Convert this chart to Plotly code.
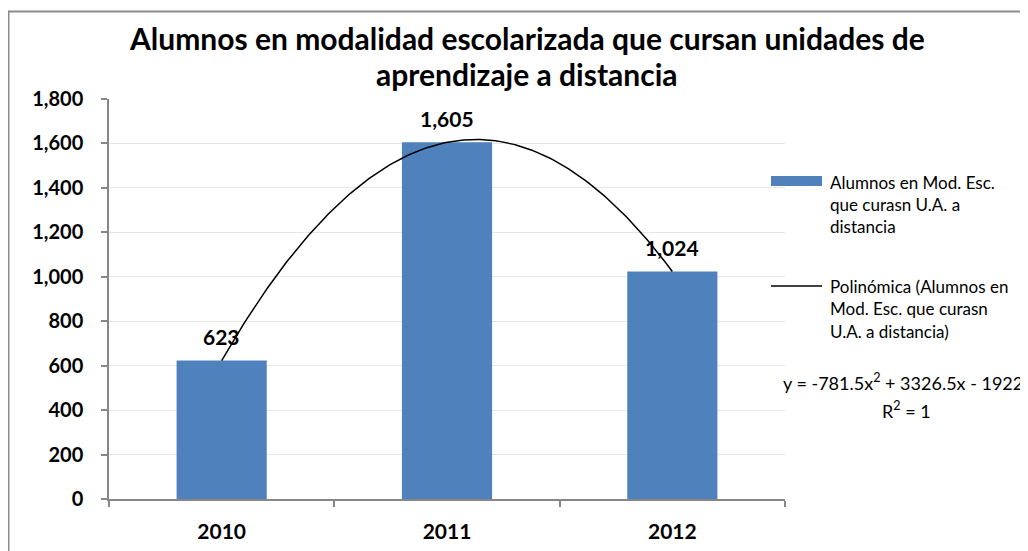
import numpy as np
import plotly.graph_objects as go

# ---- data ----
years = ["2010", "2011", "2012"]
alumnos = [623, 1605, 1024]
y_ticks = [0, 200, 400, 600, 800, 1000, 1200, 1400, 1600, 1800]
title_lines = ["Alumnos en modalidad escolarizada que cursan unidades de",
               "aprendizaje a distancia"]
legend_bar = ["Alumnos en Mod. Esc.", "que curasn U.A. a", "distancia"]
legend_line = ["Polinómica (Alumnos en", "Mod. Esc. que curasn", "U.A. a distancia)"]

# page is offset by the default 8px body margin
OFF = 8
PAGE_W, PAGE_H = 1028, 551
W, H = PAGE_W - OFF, PAGE_H - OFF
AX_L, AX_R, AX_T, AX_B = 109, 785, 99, 499  # page pixel coords of plot area
L, R, T, B = AX_L - OFF, PAGE_W - AX_R, AX_T - OFF, PAGE_H - AX_B
PW, PH = AX_R - AX_L, AX_B - AX_T


def px(x):
    return (x - AX_L) / PW


def py(y):
    return (AX_B - y) / PH


FONT = "Lato"
BLUE = "#4F81BD"
AX = "#878787"

idx = list(range(len(years)))

# Excel-style polynomial (order 2) trendline, x = 1..n
xe = np.arange(1, len(alumnos) + 1)
coef = np.polyfit(xe, alumnos, 2)
xs = np.linspace(1, len(alumnos), 200)
ys = np.polyval(coef, xs)
pred = np.polyval(coef, xe)
r2 = 1 - np.sum((np.array(alumnos) - pred) ** 2) / np.sum((np.array(alumnos) - np.mean(alumnos)) ** 2)

fig = go.Figure()
fig.add_trace(go.Bar(x=idx, y=alumnos, width=0.4, marker=dict(color=BLUE, line=dict(width=0)),
                     showlegend=False, hoverinfo="skip"))
fig.add_trace(go.Scatter(x=xs - 1, y=ys, mode="lines", line=dict(color="black", width=1.5),
                         showlegend=False, hoverinfo="skip"))

ann = []
for i, v in zip(idx, alumnos):
    ann.append(dict(x=i, y=v, xref="x", yref="y", text=f"<b>{v:,}</b>", showarrow=False,
                    yanchor="middle", yshift=24, font=dict(family=FONT, size=21, color="black")))

# title
for j, line in enumerate(title_lines):
    ann.append(dict(x=px(527), y=py(38 + 36 * j), xref="paper", yref="paper", text=f"<b>{line}</b>",
                    showarrow=False, xanchor="center", yanchor="middle",
                    font=dict(family=FONT, size=30, color="black")))

# custom legend
LEGX = 828
shapes = [
    dict(type="rect", xref="paper", yref="paper", x0=px(771), x1=px(822), y0=py(186), y1=py(176),
         fillcolor=BLUE, line=dict(width=0)),
    dict(type="line", xref="paper", yref="paper", x0=px(771), x1=px(822), y0=py(286), y1=py(286),
         line=dict(color="black", width=1.5)),
    # chart border (top and left)
    dict(type="line", xref="paper", yref="paper", x0=px(8), x1=px(1040), y0=py(11.5), y1=py(11.5),
         line=dict(color="#8C8C8C", width=2)),
    dict(type="line", xref="paper", yref="paper", x0=px(8.5), x1=px(8.5), y0=py(11), y1=py(570),
         line=dict(color="#8C8C8C", width=2)),
]
for k, t in enumerate(legend_bar):
    ann.append(dict(x=px(LEGX), y=py(182 + 22.3 * k), xref="paper", yref="paper", text=t, showarrow=False,
                    xanchor="left", yanchor="middle", font=dict(family=FONT, size=17, color="black")))
for k, t in enumerate(legend_line):
    ann.append(dict(x=px(LEGX), y=py(286 + 22.5 * k), xref="paper", yref="paper", text=t, showarrow=False,
                    xanchor="left", yanchor="middle", font=dict(family=FONT, size=17, color="black")))


def fmt(v):
    return f"{v:g}"


a, b, c = coef
eq = f"y = {fmt(round(a, 1))}x<sup>2</sup> {'+' if b >= 0 else '-'} {fmt(abs(round(b, 1)))}x {'+' if c >= 0 else '-'} {fmt(abs(round(c)))}"
ann.append(dict(x=px(781), y=py(382), xref="paper", yref="paper", text=eq, showarrow=False,
                xanchor="left", yanchor="middle", font=dict(family=FONT, size=18, color="black")))
ann.append(dict(x=px(906), y=py(410), xref="paper", yref="paper", text=f"R<sup>2</sup> = {round(r2):g}",
                showarrow=False, xanchor="center", yanchor="middle",
                font=dict(family=FONT, size=18, color="black")))

fig.update_layout(
    width=W, height=H, margin=dict(l=L, r=R, t=T, b=B, autoexpand=False),
    paper_bgcolor="white", plot_bgcolor="white",
    annotations=ann, shapes=shapes, showlegend=False,
    xaxis=dict(range=[-0.5, len(years) - 0.5], tickvals=idx, ticktext=[f"<b>{y}</b>" for y in years],
               ticks="", showgrid=False, zeroline=False, showline=True, linecolor=AX, linewidth=1.5,
               automargin=False,
               tickfont=dict(family=FONT, size=21, color="black"), ticklabelstandoff=13,
               minor=dict(ticks="outside", tick0=-0.5, dtick=1, ticklen=6, tickcolor=AX, tickwidth=1.5,
                          showgrid=False)),
    yaxis=dict(range=[0, 1800], tickvals=y_ticks, ticktext=[f"<b>{v:,}</b>" for v in y_ticks],
               ticks="outside", ticklen=6, tickcolor=AX, tickwidth=1.5, automargin=False,
               showgrid=True, gridcolor="#E6E6E6", gridwidth=1, zeroline=False,
               showline=True, linecolor=AX, linewidth=1.5,
               tickfont=dict(family=FONT, size=20, color="black"), ticklabelstandoff=14),
)

fig.write_html("out.html")
